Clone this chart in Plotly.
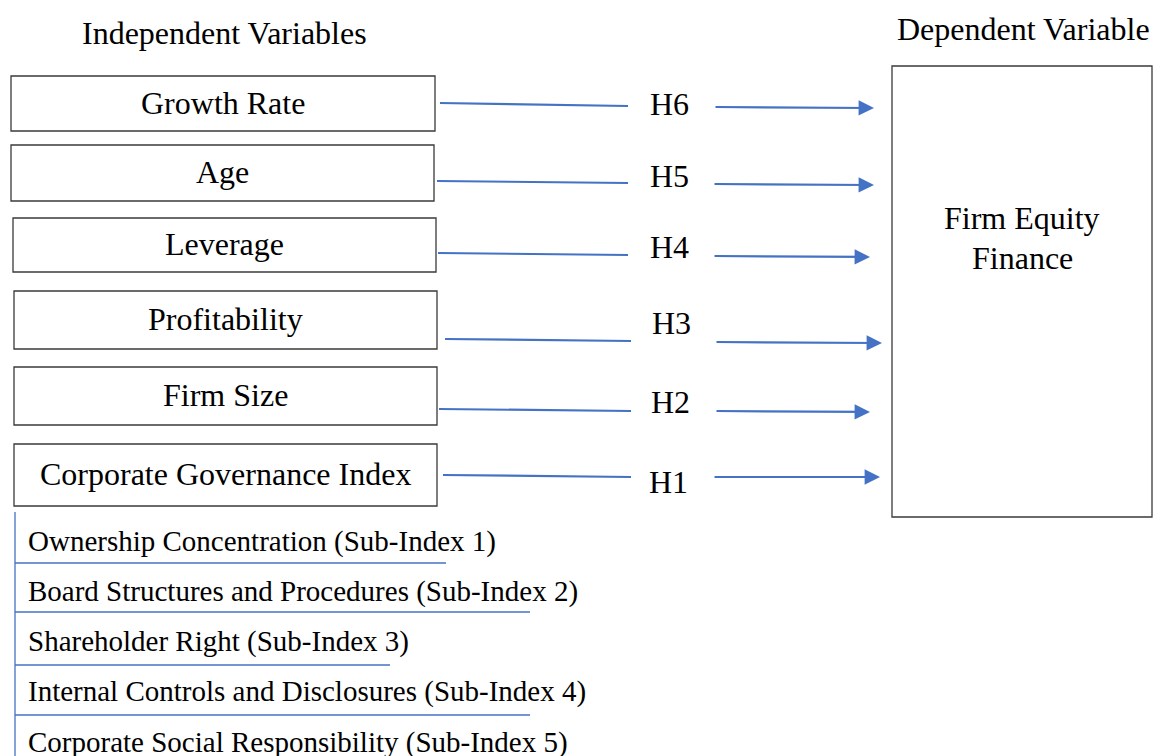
import plotly.graph_objects as go

# ---- content ----
independent_vars = ["Growth Rate", "Age", "Leverage", "Profitability", "Firm Size",
                    "Corporate Governance Index"]
hypotheses = ["H6", "H5", "H4", "H3", "H2", "H1"]
sub_indices = ["Ownership Concentration (Sub-Index 1)",
               "Board Structures and Procedures (Sub-Index 2)",
               "Shareholder Right (Sub-Index 3)",
               "Internal Controls and Disclosures (Sub-Index 4)",
               "Corporate Social Responsibility (Sub-Index 5)"]
left_header = "Independent Variables"
right_header = "Dependent Variable"
dependent_var = ["Firm Equity", "Finance"]

# ---- layout geometry (pixel-like canvas) ----
W, H = 1162, 756
OFF = 8  # page body margin compensation
box_x0 = [11, 11, 13, 14, 14, 14]
box_x1 = [435, 434, 436, 437, 437, 437]
box_y0 = [76, 145, 218, 291, 367, 444]
box_y1 = [131, 201, 272, 349, 425, 506]
seg1 = [(440, 103, 628, 106), (437, 181, 628, 183), (438, 253, 628, 255),
        (445, 339, 631, 341), (439, 409, 631, 411), (443, 475, 631, 477)]
seg2 = [(714, 107, 874, 108), (713, 184, 874, 185), (713, 256, 870, 257),
        (715, 342, 882, 343), (715, 411, 870, 412), (713, 477, 880, 477)]
hyp_pos = [(669, 104), (669, 176), (669, 247), (671, 323), (670, 402), (668, 482)]
sub_y = [541, 591, 641, 691, 742]
sub_line_y = [563, 612, 665, 715]
sub_line_x1 = [446, 530, 390, 530]

BLUE = "#4472C4"
FONT = "Liberation Serif, Times New Roman, serif"
FS = 32

fig = go.Figure()
shapes = []
annotations = []

for i, name in enumerate(independent_vars):
    shapes.append(dict(type="rect", x0=box_x0[i], x1=box_x1[i], y0=box_y0[i], y1=box_y1[i],
                       line=dict(color="#3a3a3a", width=1.3), fillcolor="white", layer="below"))
    annotations.append(dict(x=(box_x0[i] + box_x1[i]) / 2, y=(box_y0[i] + box_y1[i]) / 2 - 1,
                            text=name, showarrow=False,
                            font=dict(family=FONT, size=FS, color="black")))
    a = seg1[i]
    shapes.append(dict(type="line", x0=a[0], y0=a[1], x1=a[2], y1=a[3],
                       line=dict(color=BLUE, width=2.2)))
    b = seg2[i]
    annotations.append(dict(x=b[2], y=b[3], ax=b[0], ay=b[1], xref="x", yref="y",
                            axref="x", ayref="y", text="", showarrow=True,
                            arrowhead=2, arrowsize=1.4, arrowwidth=2.2, arrowcolor=BLUE))
    annotations.append(dict(x=hyp_pos[i][0], y=hyp_pos[i][1], text=hypotheses[i],
                            showarrow=False, font=dict(family=FONT, size=FS, color="black")))

# dependent box
shapes.append(dict(type="rect", x0=892, x1=1152, y0=66, y1=517,
                   line=dict(color="#3a3a3a", width=1.3), fillcolor="white", layer="below"))
annotations.append(dict(x=1022, y=218, text=dependent_var[0], showarrow=False,
                        font=dict(family=FONT, size=FS, color="black")))
annotations.append(dict(x=1022, y=258, text=dependent_var[1], showarrow=False,
                        font=dict(family=FONT, size=FS, color="black")))

annotations.append(dict(x=224, y=33, text=left_header, showarrow=False,
                        font=dict(family=FONT, size=FS, color="black")))
annotations.append(dict(x=1023, y=29, text=right_header, showarrow=False,
                        font=dict(family=FONT, size=FS, color="black")))

# sub-index list
shapes.append(dict(type="line", x0=15, x1=15, y0=512, y1=760,
                   line=dict(color=BLUE, width=1.3)))
for i, s in enumerate(sub_indices):
    annotations.append(dict(x=26, y=sub_y[i], text=s, showarrow=False, xanchor="left",
                            font=dict(family=FONT, size=29, color="black")))
for i, yl in enumerate(sub_line_y):
    shapes.append(dict(type="line", x0=15, x1=sub_line_x1[i], y0=yl, y1=yl,
                       line=dict(color=BLUE, width=1.3)))

fig.update_layout(
    width=W, height=H, margin=dict(l=0, r=0, t=0, b=0),
    paper_bgcolor="white", plot_bgcolor="white",
    xaxis=dict(range=[OFF, W + OFF], visible=False, fixedrange=True),
    yaxis=dict(range=[H + OFF, OFF], visible=False, fixedrange=True),
    shapes=shapes, annotations=annotations, showlegend=False,
)
fig.write_html("out.html")
